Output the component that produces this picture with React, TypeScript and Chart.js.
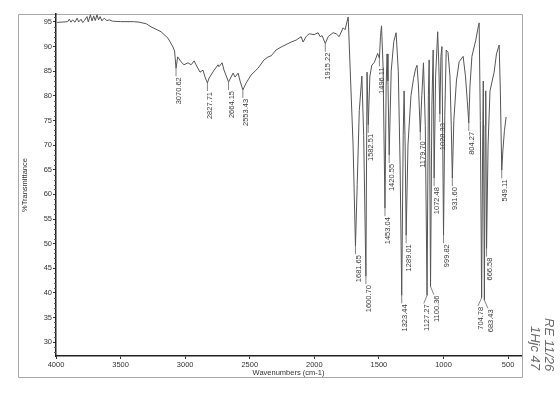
import React, { useEffect, useRef } from "react";
import { Chart, registerables } from "chart.js";

Chart.register(...registerables);

// Spectrum (wavenumber cm-1, %T)
const wavenumbers = [
  3992, 3960, 3930, 3909, 3897, 3884, 3871, 3853, 3837, 3824, 3806, 3793, 3780, 3760, 3750, 3734, 3721, 3708,
  3696, 3683, 3670, 3658, 3645, 3627, 3606, 3588, 3562, 3500, 3400, 3357, 3300, 3264, 3187, 3133, 3094, 3082,
  3070.62, 3058, 3032, 3009, 2978, 2954, 2931, 2916, 2885, 2862, 2846, 2827.71, 2815, 2776, 2745, 2738, 2714,
  2699, 2664.15, 2645, 2629, 2614, 2590, 2575, 2553.43, 2528, 2490, 2436, 2389, 2358, 2335, 2296, 2257, 2180,
  2141, 2102, 2087, 2064, 2040, 2002, 1971, 1955, 1940, 1915.22, 1893, 1855, 1831, 1808, 1777, 1762, 1738, 1700,
  1681.65, 1668, 1652, 1632, 1618, 1600.7, 1592, 1582.51, 1570, 1555, 1535, 1510, 1496.11, 1488, 1480, 1468,
  1453.04, 1444, 1437, 1430, 1420.55, 1405, 1385, 1367, 1350, 1336, 1323.44, 1312, 1305, 1297, 1289.01, 1275,
  1252, 1232, 1216, 1205, 1194, 1179.7, 1168, 1155, 1141, 1127.27, 1117, 1111, 1100.36, 1090, 1080, 1072.48,
  1061, 1045, 1036, 1028.33, 1020, 1012, 999.82, 990, 979, 965, 950, 940, 931.6, 920, 900, 879, 848, 830, 816,
  804.27, 795, 780, 750, 735, 724, 715, 704.78, 697, 692, 683.43, 677, 673, 666.58, 655, 640, 608, 590, 569, 560,
  549.11, 540, 528, 515,
];
const transmittance = [
  94.9, 94.95, 95.0, 95.06, 95.55, 94.94, 95.41, 94.94, 95.75, 95.0, 95.55, 94.86, 95.26, 96.08, 95.0, 96.42, 95.2, 96.22,
  95.26, 96.42, 95.41, 96.08, 95.2, 95.75, 95.26, 95.41, 95.14, 95.05, 95.05, 94.95, 94.6, 94.0, 93.0, 91.7, 89.9, 89.1,
  85.6, 87.9, 86.9, 86.3, 86.7, 86.3, 87.1, 86.3, 84.8, 85.2, 83.8, 82.6, 83.6, 85.2, 86.3, 85.9, 86.7,
  85.2, 82.8, 83.8, 84.6, 83.8, 84.6, 83.0, 81.2, 82.6, 84.2, 85.6, 87.3, 87.9, 88.1, 89.3, 89.9, 90.9,
  91.3, 92.0, 90.9, 92.0, 92.6, 92.4, 92.8, 92.0, 92.2, 90.6, 92.0, 92.8, 92.6, 92.0, 93.8, 93.4, 96.0, 70,
  49.5, 62, 77, 84.0, 72, 43.4, 84.8, 74.1, 84.0, 86.2, 86.8, 88.6, 87.6, 92.0, 94.2, 86,
  57.2, 82, 88.5, 83, 68.0, 85, 91, 92.8, 85, 66, 39.5, 72, 81.0, 70, 51.7, 70,
  80, 83.5, 85.5, 86.2, 82, 72.6, 80, 86.7, 74, 39.5, 80, 87.3, 41.3, 78, 89.3, 63.3,
  84, 93.0, 86, 76.3, 88, 90.0, 51.7, 76, 89.3, 88.8, 84, 74, 63.3, 75, 83, 86.9, 88.0, 84, 79,
  74.5, 82, 88, 91.3, 93.5, 94.8, 75, 39.0, 70, 83, 38.5, 74, 81, 49.0, 70, 81, 84.8, 88.5, 90.3, 81,
  64.9, 69, 73, 75.7,
];

const peakWavenumbers = [
  3070.62, 2827.71, 2664.15, 2553.43, 1915.22, 1681.65, 1600.7, 1582.51, 1496.11, 1453.04, 1420.55, 1323.44,
  1289.01, 1179.7, 1127.27, 1100.36, 1072.48, 1028.33, 999.82, 931.6, 804.27, 704.78, 683.43, 666.58, 549.11,
];

const xTicks = [4000, 3500, 3000, 2500, 2000, 1500, 1000, 500];
const yTicks = [30, 35, 40, 45, 50, 55, 60, 65, 70, 75, 80, 85, 90, 95];
const xTitle = "Wavenumbers (cm-1)";
const yTitle = "%Transmittance";
const handNotes = ["RE 11/26", "1Hjc 47"];

const FONT = '"Liberation Sans", Arial, sans-serif';

const framePlugin = {
  id: "frame",
  beforeDraw(chart: any) {
    const { ctx, chartArea } = chart;
    const l = chartArea.left - 38;
    const r = chartArea.right + 1;
    const t = chartArea.top;
    const b = chartArea.bottom + 21;
    ctx.save();
    ctx.strokeStyle = "#a8a8a8";
    ctx.lineWidth = 1;
    ctx.beginPath();
    ctx.rect(l + 0.5, t + 0.5, r - l, b - t);
    ctx.stroke();
    // handwritten note at the right margin
    ctx.fillStyle = "#6a6a6a";
    ctx.font = `italic 13px ${FONT}`;
    handNotes.forEach((txt, k) => {
      ctx.save();
      ctx.translate(r + 27 - k * 14, chartArea.bottom - 38 + k * 8);
      ctx.rotate(Math.PI / 2);
      ctx.textAlign = "left";
      ctx.textBaseline = "middle";
      ctx.fillText(txt, 0, 0);
      ctx.restore();
    });
    ctx.restore();
  },
};

const minorTicksPlugin = {
  id: "minorTicks",
  afterDraw(chart: any) {
    const { ctx, chartArea, scales } = chart;
    const y = scales.y;
    ctx.save();
    ctx.strokeStyle = "#555";
    ctx.lineWidth = 1;
    ctx.beginPath();
    for (let v = Math.ceil(y.min); v <= y.max; v++) {
      if (v % 5 === 0) continue;
      const py = Math.round(y.getPixelForValue(v)) + 0.5;
      ctx.moveTo(chartArea.left - 2, py);
      ctx.lineTo(chartArea.left, py);
    }
    ctx.stroke();
    ctx.restore();
  },
};

const peakLabelPlugin = {
  id: "peakLabels",
  afterDatasetsDraw(chart: any) {
    const { ctx, scales } = chart;
    const x = scales.x;
    const y = scales.y;
    ctx.save();
    ctx.font = `7.5px ${FONT}`;
    const items = peakWavenumbers.map((w) => {
      const i = wavenumbers.indexOf(w);
      const t = transmittance[i];
      const px = x.getPixelForValue(w);
      const py = y.getPixelForValue(t);
      const text = w.toFixed(2);
      const len = ctx.measureText(text).width;
      const top = py + 9;
      return { px, py, text, cx: px + 3, top, bottom: top + len };
    });
    for (let it = 0; it < 30; it++) {
      for (let a = 0; a < items.length; a++) {
        for (let b = a + 1; b < items.length; b++) {
          const A = items[a];
          const B = items[b];
          if (A.bottom + 2 < B.top || B.bottom + 2 < A.top) continue;
          if (Math.abs(A.cx - B.cx) >= 10) continue;
          const mid = (A.cx + B.cx) / 2;
          A.cx = mid - 5;
          B.cx = mid + 5;
        }
      }
    }
    ctx.strokeStyle = "#666";
    ctx.lineWidth = 0.8;
    ctx.fillStyle = "#3a3a3a";
    for (const it of items) {
      ctx.beginPath();
      ctx.moveTo(it.px, it.py);
      ctx.lineTo(it.cx - 3, it.top - 1);
      ctx.stroke();
      ctx.save();
      ctx.translate(it.cx, it.top);
      ctx.rotate(-Math.PI / 2);
      ctx.textAlign = "right";
      ctx.textBaseline = "middle";
      ctx.fillText(it.text, 0, 0);
      ctx.restore();
    }
    ctx.restore();
  },
};

export default function App() {
  const ref = useRef<HTMLCanvasElement | null>(null);
  useEffect(() => {
    if (!ref.current) return;
    const chart = new Chart(ref.current, {
      type: "line",
      data: {
        datasets: [
          {
            data: wavenumbers.map((w, i) => ({ x: w, y: transmittance[i] })),
            borderColor: "#555",
            borderWidth: 1,
            pointRadius: 0,
            tension: 0,
            fill: false,
          },
        ],
      },
      options: {
        animation: false,
        responsive: false,
        events: [],
        layout: { padding: { left: 0, top: 14, right: 39, bottom: 0 } },
        plugins: { legend: { display: false }, tooltip: { enabled: false } },
        scales: {
          x: {
            type: "linear",
            reverse: true,
            min: 400,
            max: 4000,
            afterBuildTicks: (s: any) => {
              s.ticks = xTicks.map((v) => ({ value: v }));
            },
            afterFit: (s: any) => {
              s.height = 38;
            },
            grid: { drawOnChartArea: false, drawTicks: true, tickLength: 3, color: "#333" },
            border: { display: true, color: "#222", width: 1.5 },
            ticks: {
              color: "#333",
              font: { family: FONT, size: 7.5 },
              padding: 1,
              maxRotation: 0,
              autoSkip: false,
              callback: (v: any) => String(v),
            },
            title: {
              display: true,
              text: xTitle,
              color: "#333",
              font: { family: FONT, size: 7.5 },
              padding: { top: 0, bottom: 16.5 },
            },
          },
          y: {
            type: "linear",
            min: 27.2,
            max: 96.6,
            afterBuildTicks: (s: any) => {
              s.ticks = yTicks.map((v) => ({ value: v }));
            },
            afterFit: (s: any) => {
              s.width = 56;
            },
            grid: { drawOnChartArea: false, drawTicks: true, tickLength: 3, color: "#333" },
            border: { display: true, color: "#222", width: 1.5 },
            ticks: {
              color: "#333",
              font: { family: FONT, size: 7.5 },
              padding: 1,
              autoSkip: false,
              callback: (v: any) => String(v),
            },
            title: {
              display: true,
              text: yTitle,
              color: "#333",
              font: { family: FONT, size: 7.5 },
              padding: { top: 20.5, bottom: 0 },
            },
          },
        },
      },
      plugins: [framePlugin, peakLabelPlugin, minorTicksPlugin],
    } as any);
    return () => chart.destroy();
  }, []);
  return (
    <div style={{ position: "fixed", left: 0, top: 0, width: 560, height: 394, background: "#fff" }}>
      <canvas ref={ref} width={560} height={394} style={{ display: "block" }} />
    </div>
  );
}
